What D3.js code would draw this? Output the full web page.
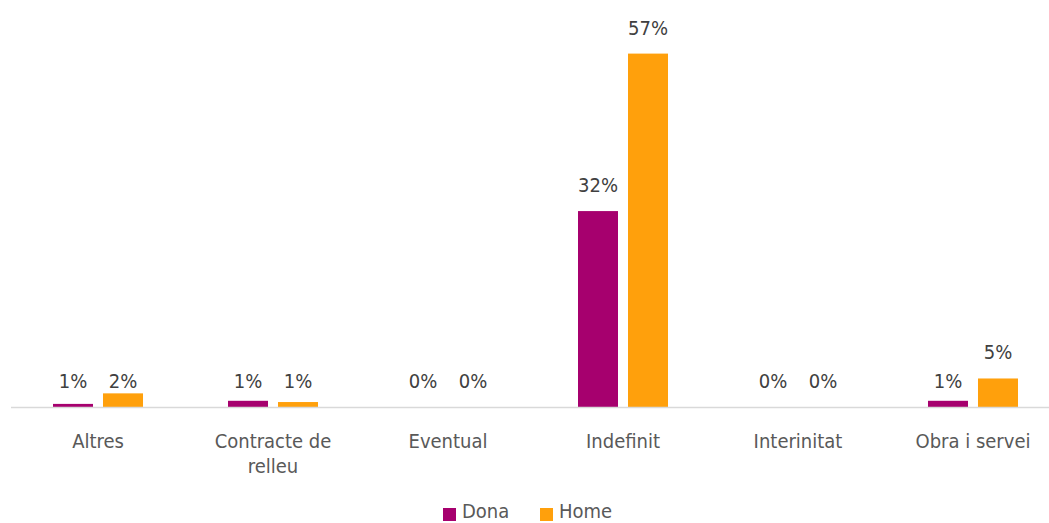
<!DOCTYPE html>
<html>
<head>
<meta charset="utf-8">
<script src="https://cdn.jsdelivr.net/npm/d3@7"></script>
<style>
  html, body { margin: 0; padding: 0; background: #ffffff; }
  svg { display: block; font-family: "DejaVu Sans Condensed", "DejaVu Sans", sans-serif; }
</style>
</head>
<body>
<svg id="chart" width="1049" height="523"></svg>
<script>
// Contract types and share of contracts by sex (percent)
const categories = ["Altres", "Contracte de relleu", "Eventual", "Indefinit", "Interinitat", "Obra i servei"];
const seriesNames = ["Dona", "Home"];
const donaValues = [0.5, 1.0, 0, 31.6, 0, 1.0];
const homeValues = [2.2, 0.8, 0, 57.0, 0, 4.6];
const seriesColors = ["#A6006E", "#FFA00C"];

const width = 1049, height = 523;
const baseline = 407;
const svg = d3.select("#chart");

const x = d3.scaleBand()
  .domain(categories)
  .range([10.5, 1060.5])
  .paddingInner(0.4857)
  .paddingOuter(0.2429);

const xSub = d3.scaleBand()
  .domain(seriesNames)
  .range([0, x.bandwidth()])
  .paddingInner(0.2);

const y = d3.scaleLinear().domain([0, 60]).range([baseline, 35]);

const rows = categories.map((c, i) => ({
  category: c,
  values: [
    { series: "Dona", value: donaValues[i] },
    { series: "Home", value: homeValues[i] }
  ]
}));

const color = d3.scaleOrdinal().domain(seriesNames).range(seriesColors);
const fmt = v => d3.format(".0f")(v) + "%";

// Bars
const groups = svg.append("g").selectAll("g")
  .data(rows)
  .join("g")
  .attr("transform", d => `translate(${x(d.category)},0)`);

groups.selectAll("rect")
  .data(d => d.values)
  .join("rect")
  .attr("x", d => xSub(d.series))
  .attr("width", xSub.bandwidth())
  .attr("y", d => y(d.value))
  .attr("height", d => baseline - y(d.value))
  .attr("fill", d => color(d.series));

// Value labels above the bars; short bars share one label row
groups.selectAll("text")
  .data(d => d.values)
  .join("text")
  .attr("x", d => xSub(d.series) + xSub.bandwidth() / 2)
  .attr("y", d => (baseline - y(d.value) < 16 ? baseline - 19 : y(d.value) - 19))
  .attr("text-anchor", "middle")
  .attr("font-size", 20)
  .attr("fill", "#404040")
  .text(d => fmt(d.value));

// Category axis
const axis = svg.append("g")
  .attr("transform", `translate(0,${baseline})`)
  .call(d3.axisBottom(x).tickSize(0).tickPadding(0));

axis.select(".domain").attr("stroke", "#d9d9d9").attr("stroke-width", 1.5);

axis.selectAll(".tick text")
  .attr("font-family", "DejaVu Sans Condensed, DejaVu Sans, sans-serif")
  .attr("font-size", 20)
  .attr("fill", "#595959")
  .attr("y", 0)
  .attr("dy", null)
  .each(function(d) {
    const t = d3.select(this);
    const words = d.split(" ");
    t.text(null);
    let lines = [], line = [];
    const probe = t.append("tspan");
    words.forEach(w => {
      line.push(w);
      probe.text(line.join(" "));
      if (probe.node().getComputedTextLength() > 130 && line.length > 1) {
        line.pop();
        lines.push(line.join(" "));
        line = [w];
      }
    });
    lines.push(line.join(" "));
    probe.remove();
    lines.forEach((l, i) => {
      t.append("tspan").attr("x", 0).attr("y", 41 + i * 25).text(l);
    });
  });

// Legend
const legend = svg.append("g").attr("transform", "translate(443,507)");
const legendX = [0, 97];
const items = legend.selectAll("g")
  .data(seriesNames)
  .join("g")
  .attr("transform", (d, i) => `translate(${legendX[i]},0)`);
items.append("rect")
  .attr("y", 1)
  .attr("width", 13).attr("height", 13)
  .attr("fill", d => color(d));
items.append("text")
  .attr("x", 19).attr("y", 11)
  .attr("font-size", 20)
  .attr("fill", "#595959")
  .text(d => d);
</script>
</body>
</html>
